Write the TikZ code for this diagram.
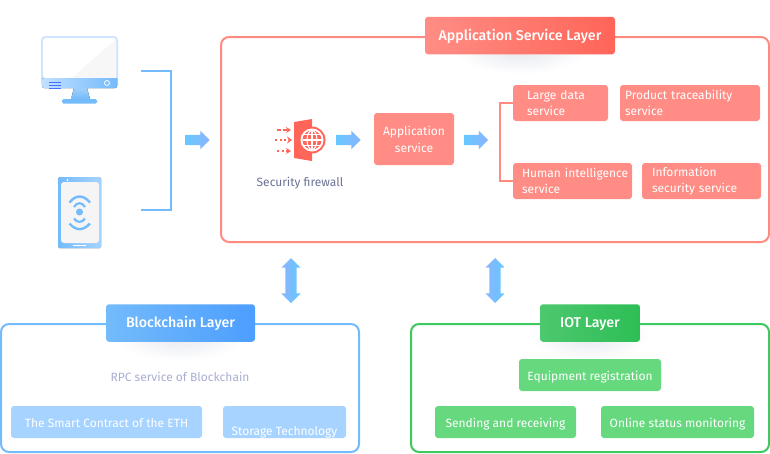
\documentclass[tikz,border=0pt]{standalone}
\usepackage{fontspec}
\setmainfont{Fira Sans}
\newfontfamily\titlefont{Fira Sans Medium}
\usetikzlibrary{shapes.arrows,arrows.meta}
\definecolor{redline}{HTML}{FF8A80}
\definecolor{redbox}{HTML}{FF8D85}
\definecolor{redtitle}{HTML}{FF6558}
\definecolor{blueline}{HTML}{74BBFB}
\definecolor{bluebox}{HTML}{A6D3FF}
\definecolor{bluetitle}{HTML}{4C9EFF}
\definecolor{greenline}{HTML}{3CC95F}
\definecolor{greenbox}{HTML}{66D87E}
\definecolor{greentitle}{HTML}{2DBE55}
\definecolor{arrowa}{HTML}{66C8FF}
\definecolor{arrowb}{HTML}{8AB4FF}
\definecolor{greytext}{HTML}{6D7396}
\definecolor{lighttext}{HTML}{A9AED2}
\definecolor{shadowgrey}{HTML}{E6E8F0}
\definecolor{paleblue}{HTML}{CFE4FF}
\begin{document}
\begin{tikzpicture}[x=1pt,y=-1pt]
	\tikzstyle{Frame} = [rectangle, draw, line width=2pt, rounded corners=8pt, inner sep=0pt]
	\tikzstyle{Title} = [rectangle, rounded corners=3pt, text=white, font=\titlefont\fontsize{14.2}{16}\selectfont, minimum height=37.5pt, inner sep=0pt, text height=13pt, text depth=3.5pt]
	\tikzstyle{Service} = [rectangle, rounded corners=3pt, fill=redbox, text=white, font=\fontsize{12}{12}\selectfont, minimum height=36pt, inner ysep=0pt, align=left, execute at begin node={\vspace*{4pt}}]
	\tikzstyle{Chain} = [rectangle, rounded corners=3pt, fill=bluebox, text=white, font=\fontsize{12}{14}\selectfont, minimum height=32pt, inner sep=0pt, text height=13pt, text depth=3pt]
	\tikzstyle{Iot} = [rectangle, rounded corners=3pt, fill=greenbox, text=white, font=\fontsize{12}{14}\selectfont, minimum height=32pt, inner sep=0pt, text height=13pt, text depth=3pt]
	\tikzstyle{Flow} = [single arrow, left color=arrowa, right color=arrowb, minimum height=24pt, single arrow head extend=4pt, single arrow head indent=0pt, inner xsep=0pt, inner ysep=5pt]
	\tikzstyle{Both} = [double arrow, left color=arrowb, right color=arrowa, minimum height=45pt, double arrow head extend=4pt, double arrow head indent=0pt, inner xsep=0pt, inner ysep=5.5pt]
	\useasboundingbox (0,0) rectangle (770,453);
	\shade [inner color=shadowgrey, outer color=white] (520,50) ellipse [x radius=66, y radius=24];
	\shade [inner color=shadowgrey, outer color=white] (180,335) ellipse [x radius=66, y radius=26];
	\shade [inner color=shadowgrey, outer color=white] (590,335) ellipse [x radius=60, y radius=26];
	\node (ApplicationFrame) at (495,139.5) [Frame, draw=redline, minimum width=548pt, minimum height=205pt] {};
	\node (BlockchainFrame) at (180,388) [Frame, draw=blueline, minimum width=358pt, minimum height=128pt] {};
	\node (IotFrame) at (590,388) [Frame, draw=greenline, minimum width=358pt, minimum height=128pt] {};
	\node (ApplicationTitle) at (520,35.5) [Title, left color=redbox, right color=redtitle, minimum width=190pt] {Application Service Layer};
	\node (BlockchainTitle) at (180.5,323) [Title, left color=blueline, right color=bluetitle, minimum width=149pt] {Blockchain Layer};
	\node (IotTitle) at (590,323) [Title, left color=greentitle!85!white, right color=greentitle, minimum width=100pt] {IOT Layer};
	\node (ApplicationService) at (414,139) [Service, minimum width=80pt, minimum height=52pt, text width=76pt, inner xsep=2pt, align=center, font=\fontsize{12}{13}\selectfont] {Application\\service};
	\node (LargeData) at (560.5,103) [Service, minimum width=95pt, text width=67pt, inner xsep=14pt] {Large data\\service};
	\node (ProductTrace) at (690,103) [Service, minimum width=140pt, text width=130pt, inner xsep=5pt] {Product traceability\\service};
	\node (HumanIntel) at (572.5,181) [Service, minimum width=119pt, text width=101pt, inner xsep=9pt] {\mbox{Human intelligence}\\service};
	\node (InfoSecurity) at (701.5,181) [Service, minimum width=119pt, text width=99pt, inner xsep=10pt] {Information\\security service};
	\node (SecurityLabel) at (300,183.5) [text=greytext, font=\fontsize{12}{14}\selectfont, inner sep=0pt] {Security firewall};
	\node (RpcLabel) at (180,376.5) [text=lighttext, font=\fontsize{12}{14}\selectfont, inner sep=0pt] {RPC service of Blockchain};
	\node (SmartContract) at (106.5,422) [Chain, minimum width=191pt] {The Smart Contract of the ETH};
	\node (StorageBox) at (284.5,422) [Chain, minimum width=123pt] {};
	\node (StorageText) at (284.5,432.5) [text=white, font=\fontsize{12}{14}\selectfont, inner sep=0pt] {Storage Technology};
	\node (Equipment) at (590,375) [Iot, minimum width=142pt] {Equipment registration};
	\node (Sending) at (505.5,422) [Iot, minimum width=141pt] {Sending and receiving};
	\node (Online) at (677.5,422) [Iot, minimum width=153pt] {Online status monitoring};
	\node (FlowIn) at (195,140) [Flow] {};
	\node (FlowFirewall) at (346,140) [Flow] {};
	\node (FlowServices) at (473.5,140) [Flow] {};
	\node (BothBlockchain) at (291,280.5) [Both, rotate=90] {};
	\node (BothIot) at (495,280.5) [Both, rotate=90] {};
	\coordinate (MonitorEnd) at (141,71);
	\coordinate (TabletEnd) at (141,210);
	\draw [-, blueline, line width=2pt] (MonitorEnd) -- (171,71) |- (TabletEnd);
	\draw [-, redline, line width=2pt] (LargeData.west) -- (500,103) |- (HumanIntel.west);
	\fill [rounded corners=4pt, fill=paleblue] (41,36) rectangle (118,88);
	\fill [rounded corners=3pt, fill=white] (43,38) rectangle (116,78);
	\fill [fill=black!3] (116,39) -- (116,78) -- (72,78) -- cycle;
	\fill [left color=bluebox!70!white, right color=blueline] (42,78) -- (117,78) -- (117,84) [rounded corners=2pt] -- (117,88) -- (42,88) -- cycle;
	\draw [white, line width=0.8pt] (107,83) circle [radius=2.5];
	\draw [blueline!60!blue, line width=0.6pt] (49,82) -- (61,82) (49,85) -- (61,85) (49,88.5) -- (61,88.5);
	\fill [top color=blueline!70!white, bottom color=blueline] (74,88) -- (87,88) -- (90,99) -- (71,99) -- cycle;
	\fill [rounded corners=1.5pt, fill=blueline] (62,99) rectangle (97,103.5);
	\fill [rounded corners=1.5pt, left color=blueline, right color=bluebox] (58,177) rectangle (101,248);
	\fill [rounded corners=3pt, fill=black!4] (61,182) rectangle (99,243);
	\fill [fill=white] (67.5,180) circle [radius=1];
	\fill [fill=white] (73,244.5) rectangle (86,246);
	\fill [fill=blueline] (79.5,212) circle [radius=3.5];
	\draw [blueline, line width=2.4pt] (69.5,202.5) .. controls (76,194.5) and (83,194.5) .. (90,202.5);
	\draw [blueline, line width=2.2pt] (74,207) .. controls (77,202) and (82,202) .. (85,207);
	\draw [blueline, line width=2.2pt] (74,218.5) .. controls (77,223) and (82,223) .. (85,218.5);
	\draw [blueline, line width=2.4pt] (69.5,223.5) .. controls (76,231) and (83,231) .. (90,223.5);
	\fill [fill=redtitle] (294,122) -- (312,119) -- (312,161) -- (294,158) -- cycle;
	\fill [fill=redtitle] (312,140) circle [radius=13.5];
	\fill [fill=white] (312,140) circle [radius=11.5];
	\fill [fill=redtitle] (312,140) circle [radius=9.5];
	\draw [white, line width=1.1pt] (312,140) circle [x radius=5, y radius=9.5];
	\draw [white, line width=1.1pt] (312,130) -- (312,150) (302.5,140) -- (321.5,140) (304,134.5) -- (320,134.5) (304,145.5) -- (320,145.5);
	\draw [redtitle, line width=1.6pt, dash pattern=on 4pt off 1.5pt, -{Stealth[length=5pt,width=6pt]}] (277,130) -- (291,130);
	\draw [redtitle, line width=1.6pt, dash pattern=on 2pt off 2.5pt, -{Stealth[length=5pt,width=7pt]}] (275,140) -- (292,140);
	\draw [redtitle, line width=1.6pt, dash pattern=on 2pt off 2.5pt, -{Stealth[length=5pt,width=6pt]}] (277,151) -- (291,151);
\end{tikzpicture}
\end{document}
